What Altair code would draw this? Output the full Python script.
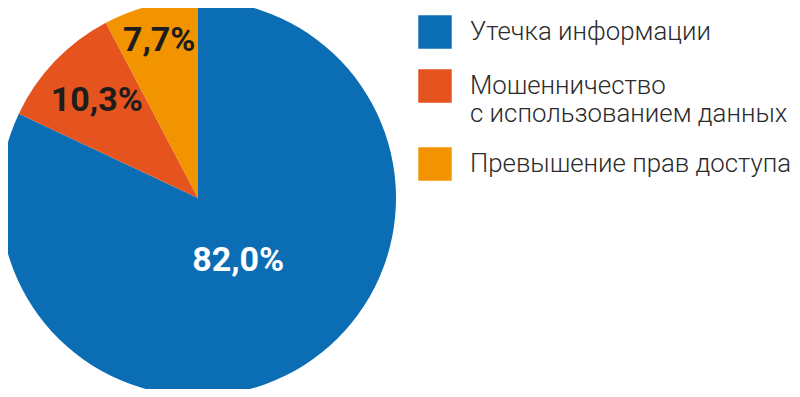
import altair as alt
import pandas as pd

categories = ["Утечка информации", "Мошенничество\nс использованием данных", "Превышение прав доступа"]
values = [82.0, 10.3, 7.7]
labels = ["82,0%", "10,3%", "7,7%"]
colors = ["#0b6db3", "#e5531f", "#f29400"]
label_colors = ["#ffffff", "#1d1d1b", "#1d1d1b"]

df = pd.DataFrame({
    "cat": categories,
    "value": values,
    "label": labels,
    "order": list(range(len(categories))),
    "tcolor": label_colors,
})

R = 198
CX, CY = 190, 190

base = alt.Chart(df).encode(
    theta=alt.Theta("value:Q", stack=True),
    order=alt.Order("order:Q"),
)

pie = base.mark_arc(outerRadius=R).encode(
    x=alt.value(CX), y=alt.value(CY),
    color=alt.Color(
        "cat:N",
        scale=alt.Scale(domain=categories, range=colors),
        sort=categories,
        legend=alt.Legend(
            title=None,
            orient="none",
            legendX=410,
            legendY=7,
            symbolType="square",
            symbolSize=1120,
            symbolStrokeWidth=0,
            symbolOpacity=1,
            labelFont="Roboto",
            labelFontSize=25.8,
            labelFontWeight=300,
            labelColor="#2b2b2b",
            labelOffset=18,
            labelLimit=400,
            labelBaseline="middle",
            rowPadding=20,
            labelExpr="split(datum.label, '\\n')",
        ),
    ),
)

text_radii = [75, 140, 162]
texts = []
for i, r in enumerate(text_radii):
    t = base.mark_text(
        radius=r,
        font="Roboto",
        fontWeight="bold",
        fontSize=34,
        align="center",
        baseline="middle",
    ).encode(
        x=alt.value(CX), y=alt.value(CY),
        text=alt.condition(alt.datum.order == i, "label:N", alt.value("")),
        color=alt.Color("tcolor:N", scale=None),
    )
    texts.append(t)

chart = alt.layer(pie, *texts).properties(
    width=784, height=381, padding=0, autosize=alt.AutoSizeParams(type="none")
).configure_view(stroke=None)

chart.save("out.html", embed_options={"renderer": "svg", "actions": False})
